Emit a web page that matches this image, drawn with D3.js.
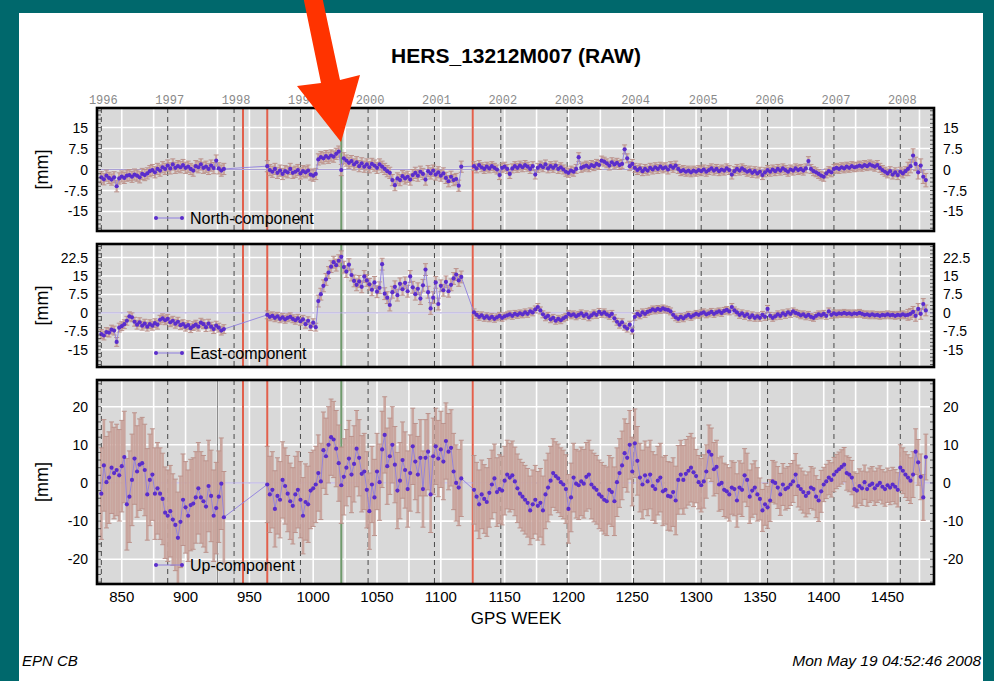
<!DOCTYPE html>
<html><head><meta charset="utf-8">
<script src="https://cdn.jsdelivr.net/npm/d3@7"></script>
<style>body{margin:0;background:#00686c;} svg{display:block}</style>
</head><body><svg id="c" width="994" height="681"></svg>
<script>
// ---------------- data ----------------
const title = "HERS_13212M007 (RAW)";
const footerLeft = "EPN CB";
const footerRight = "Mon May 19 04:52:46 2008";
const xLabel = "GPS WEEK";
const yLabel = "[mm]";
const legendNames = ["North-component", "East-component", "Up-component"];
const weekTicks = [850, 900, 950, 1000, 1050, 1100, 1150, 1200, 1250, 1300, 1350, 1400, 1450];
const gridWeeks = [850, 875, 900, 925, 950, 975, 1000, 1025, 1050, 1075, 1100, 1125, 1150, 1175, 1200, 1225, 1250, 1275, 1300, 1325, 1350, 1375, 1400, 1425, 1450, 1475];
const yearLabels = ["1996","1997","1998","1999","2000","2001","2002","2003","2004","2005","2006","2007","2008"];
const yearStartWeeks = [834, 886, 938, 990, 1043, 1095, 1147, 1199, 1251, 1304, 1356, 1408, 1460];
const redLineWeeks = [945, 964, 1125];
const greenLineWeeks = [1022];
const grayLineWeeks = [925];
const segmentStarts = [834, 964, 1126];
const weekStep = 2;

const northTicks = [15, 7.5, 0, -7.5, -15];
const eastTicks = [22.5, 15, 7.5, 0, -7.5, -15];
const upTicks = [20, 10, 0, -10, -20];
const northDomain = [-22, 22];
const eastDomain = [-22, 28];
const upDomain = [-26.5, 27];

const northA = [-2.8,-3.5,-2.2,-3.0,-3.6,-2.8,-6.0,-3.2,-2.5,-3.0,-2.2,-2.0,-2.6,-1.8,-2.2,-2.8,-1.6,-2.0,-1.4,-0.6,-0.2,-1.0,0.2,-0.4,0.8,0.2,1.4,0.4,1.8,0.6,1.2,0.8,1.6,0.6,1.0,0.2,-0.4,1.2,0.8,1.8,0.6,1.0,0.2,1.4,0.5,3.2,0.4,-0.4,0.2];
const northB = [1.2,-0.2,-0.8,0.2,-1.2,-0.4,-1.6,-0.6,-1.0,0.2,
 -1.2,-0.8,-0.2,-1.4,-0.6,-1.0,-0.4,-1.8,-2.2,-1.6,
 3.6,4.4,4.0,4.8,4.2,5.0,4.6,5.6,6.4,-0.2,
 4.0,3.2,2.4,3.0,1.8,2.6,1.2,2.2,1.0,1.8,
 0.8,2.0,1.4,0.6,1.8,1.0,0.2,-0.6,-1.2,-3.8,
 -5.6,-3.2,-3.8,-2.4,-3.2,-2.6,-3.6,-2.0,-1.2,-2.2,
 -0.8,-1.6,-3.6,-0.6,-1.4,-0.4,-1.8,-1.0,-2.2,-1.4,
 -3.0,-4.2,-2.6,-3.8,-3.4,-5.8,1.0];
const northC = [1.2,0.4,1.6,0.8,0.2,1.0,0.4,1.2,0.6,0.0,
 -2.0,0.6,1.0,0.2,-1.6,0.4,1.2,0.6,1.4,0.8,
 1.6,1.0,0.2,1.2,-1.8,0.6,1.4,0.8,1.8,0.4,
 1.2,0.6,1.4,0.2,0.8,0.0,-0.8,-1.2,-0.4,-0.8,
 0.2,4.4,0.6,1.0,1.4,0.8,1.6,1.2,2.0,1.6,
 3.2,2.8,2.2,1.4,2.6,1.8,2.4,1.6,2.0,7.2,
 4.0,1.2,2.0,0.6,-0.2,0.4,-0.6,0.2,-0.4,0.6,
 0.0,0.8,0.2,1.0,0.4,0.8,0.0,1.2,0.6,1.4,
 0.2,-0.6,-0.2,-0.8,-0.4,-1.0,-0.4,-0.8,-0.2,-0.6,
 0.0,-0.8,-0.2,0.4,-0.4,0.2,-0.6,0.0,-0.4,0.4,
 -0.2,-1.8,-0.6,0.2,-0.4,0.4,-0.2,-0.8,-0.4,-1.2,
 -0.6,-1.4,-0.8,-2.0,-1.0,-0.2,-0.8,0.0,-0.6,0.2,
 -0.4,0.4,-0.2,-0.8,0.0,-0.4,0.4,-0.2,0.2,-0.4,
 0.4,3.0,0.2,-0.6,-1.0,-1.6,-2.2,-2.6,-1.4,-0.6,
 -1.0,0.2,0.6,0.2,0.8,0.4,1.0,0.6,1.2,0.8,
 1.0,1.4,1.0,1.6,1.2,1.8,1.4,1.0,1.6,0.6,
 -0.2,-0.8,-1.4,-0.6,-1.8,-1.0,-2.0,-0.8,-1.4,-0.6,
 0.2,1.2,5.0,2.0,-1.0,1.4,-2.6,-3.8];

const eastA = [-8.6,-9.2,-7.8,-8.0,-6.8,-7.2,-11.8,-6.0,-5.4,-4.6,
 -3.2,-1.4,-1.8,-3.6,-4.8,-3.8,-5.2,-4.4,-5.6,-4.6,
 -5.2,-4.2,-4.8,-2.8,-2.2,-3.0,-2.4,-3.8,-3.2,-4.4,
 -3.6,-5.0,-4.6,-5.6,-5.0,-6.2,-5.4,-4.8,-5.6,-4.0,
 -4.6,-5.8,-4.4,-5.6,-6.6,-5.2,-6.0,-7.2,-6.6];
const eastB = [-0.8,-1.6,-1.2,-2.0,-1.4,-2.4,-1.8,-2.6,-2.0,-1.6,
 -2.4,-3.0,-2.2,-3.4,-2.6,-4.6,-3.2,-5.6,-4.0,-5.8,
 4.8,7.6,11.0,13.6,16.4,18.8,20.6,19.4,21.2,22.8,
 18.6,16.8,19.6,15.4,13.0,11.4,12.8,10.6,14.8,13.2,
 11.6,9.4,12.4,8.6,10.2,19.8,7.8,6.2,3.2,8.4,
 10.6,7.2,11.8,9.6,12.2,8.8,14.8,10.4,7.6,9.8,
 5.8,11.2,17.6,8.4,1.8,6.2,12.4,3.6,11.0,9.2,
 12.6,8.8,11.4,14.0,15.6,13.2,14.6];
const eastC = [0.2,-0.8,-1.6,-1.0,-2.0,-1.4,-2.2,-1.6,-2.4,-1.8,
 -1.2,-2.0,-1.4,-1.0,-0.6,-1.2,-0.4,-0.8,-0.2,-0.6,
 0.2,-0.4,0.6,0.2,1.4,2.4,1.0,-0.6,-1.8,-1.2,
 -2.6,-2.0,-3.2,-2.4,-3.0,-2.2,-1.6,-0.4,-1.0,-0.6,
 -1.4,-0.8,-0.2,-1.2,-0.6,-1.8,-1.0,-0.2,-0.8,0.4,
 -0.4,0.2,-0.6,-1.2,-0.4,-2.2,-3.6,-4.8,-3.8,-5.6,
 -6.4,-4.8,-7.2,-1.6,-0.4,-1.0,0.2,-0.4,0.4,0.8,
 1.4,1.0,1.6,1.2,1.8,1.4,1.2,0.6,-0.8,-1.8,
 -2.4,-1.6,-2.2,-1.4,-0.8,-1.6,-1.0,-0.4,-0.8,-0.2,
 0.2,-0.6,-0.2,0.4,-0.4,0.2,0.6,0.0,0.8,1.2,
 0.6,2.4,1.0,0.2,-0.8,-0.2,-1.2,-0.6,-1.8,-1.0,
 -2.0,-1.4,-2.0,-0.8,-1.6,1.6,-1.2,-2.0,-1.4,-0.6,
 -1.2,-0.2,-0.8,0.2,-0.4,0.6,0.0,-0.4,-1.0,-0.6,
 -1.4,-0.8,-1.6,-2.0,-1.2,-0.6,-1.0,-0.4,-1.2,0.6,
 -0.8,-0.2,-0.6,-0.2,-0.4,0.0,-0.4,-0.2,-0.6,-0.2,
 -0.4,0.0,-0.4,-0.8,-0.6,-1.0,-0.6,-1.0,-0.8,-1.2,
 -0.8,-1.0,-0.6,-1.0,-0.8,-1.2,-0.8,-1.0,-0.6,-1.0,
 -0.8,-0.4,0.4,-1.2,1.6,-0.4,3.6,1.0];

const upA = [-2.8,4.6,0.2,1.4,4.0,2.6,3.4,2.0,4.4,6.8,
 -5.6,-3.6,0.8,6.4,3.0,4.8,5.2,3.4,-3.0,0.8,
 2.2,-2.8,-1.4,-2.8,-4.2,-7.8,-8.6,-7.4,-9.6,-11.0,
 -14.4,-10.2,-4.4,-6.4,-8.6,-5.8,-5.4,-3.8,-1.4,-3.8,
 -4.8,-6.2,-0.8,-3.4,-8.6,-6.6,-3.6,-0.2,-9.0];
const upB = [-0.4,-3.0,-1.8,-6.8,-3.4,-4.4,0.8,-0.8,-2.8,-4.8,
 -6.0,-3.0,-1.8,-4.4,-8.6,-5.0,-5.6,-2.0,-1.4,-0.4,
 2.6,0.4,8.6,7.0,10.0,12.0,11.4,9.0,5.2,-0.6,
 1.6,4.0,6.4,2.2,5.0,9.0,6.6,2.4,3.0,-1.8,
 -7.4,-0.4,-3.8,3.0,0.2,8.8,12.6,4.4,7.0,10.0,
 4.8,-2.0,0.6,6.0,3.4,-1.6,2.6,9.6,5.6,2.2,
 6.6,-1.6,6.6,8.2,-3.0,7.0,9.6,6.4,8.8,5.6,
 11.0,8.2,9.2,3.0,0.0,-1.2,1.2];
const upC = [-1.8,-3.6,-5.6,-3.0,-4.2,-5.0,-2.6,-0.4,1.2,-2.4,
 -1.6,-2.0,0.6,2.2,1.4,2.0,0.4,-1.4,-2.8,-3.6,
 -4.4,-5.2,-7.2,-5.6,-4.4,-6.0,-5.2,-7.2,-3.0,-1.2,
 0.6,2.6,1.8,1.2,0.2,-0.4,-1.6,-6.8,-3.8,1.4,
 -0.2,-0.6,0.4,-0.2,1.6,2.2,-0.4,-1.2,-1.8,-3.0,
 -3.6,-4.4,-4.8,-1.8,-2.4,-4.8,0.2,2.6,4.6,7.8,
 6.6,10.0,3.0,10.4,5.8,1.4,-0.4,2.0,0.4,2.2,
 -0.8,-1.6,0.6,1.4,-2.2,-1.8,-3.4,-3.6,-2.4,-4.6,
 0.8,2.2,0.8,2.4,3.2,4.0,2.8,1.8,0.2,-0.6,
 0.4,3.0,8.2,7.4,3.6,4.2,-0.4,0.0,-1.8,-2.2,
 -3.0,-1.2,-1.6,-4.6,-1.2,-1.8,2.0,0.8,-3.6,-2.0,
 -1.2,-3.0,-4.2,-7.2,-5.6,-6.4,-4.6,0.4,0.0,-1.2,
 -3.0,-0.4,-1.6,-1.2,-0.4,0.4,2.2,-0.8,-1.6,-2.4,
 -3.4,-2.6,-1.2,-1.6,-3.6,-4.6,-2.2,-0.4,0.4,1.4,
 0.8,2.2,3.0,3.6,4.2,4.8,2.6,2.2,1.4,-1.6,
 -2.0,-0.8,-1.4,0.2,-1.6,-0.6,-0.2,-1.4,-0.6,0.0,
 -1.0,-1.6,-0.6,-1.2,-0.4,-1.0,-1.8,4.0,3.2,2.2,
 1.4,0.6,2.2,8.2,5.4,1.6,-3.8,6.8];

// formal error (sigma, mm) valid from the given week onward
const northSigmaFrom = [834, 964, 1126, 1466];
const northSigma = [2.0, 2.0, 1.6, 2.4];
const eastSigmaFrom = [834, 964, 1004, 1126, 1466];
const eastSigma = [1.8, 1.6, 2.4, 1.4, 2.2];
const upSigmaFrom = [834, 964, 1126, 1300, 1350, 1400, 1460];
const upSigma = [12, 10, 9, 7, 5.5, 4.5, 6];

// ---------------- drawing ----------------
const svg = d3.select("#c");
const FONT = "'Liberation Sans', Arial, Helvetica, sans-serif";
svg.append("rect").attr("width", 994).attr("height", 681).attr("fill", "#00686c");
svg.append("rect").attr("x", 19).attr("y", 13).attr("width", 964).attr("height", 668).attr("fill", "#ffffff");

const X0 = 97, X1 = 934;
const x = d3.scaleLinear().domain([830.6, 1486.4]).range([X0, X1]);

svg.append("text").attr("x", 516).attr("y", 63).attr("text-anchor", "middle")
  .attr("font-family", FONT).attr("font-size", 21).attr("font-weight", "bold").text(title);

const panels = [
  {name: legendNames[0], segs: [northA, northB, northC], sf: northSigmaFrom, s: northSigma, ticks: northTicks, domain: northDomain, top: 108, bottom: 231, minor: 1.5, legendY: 218, ebw: 2.2},
  {name: legendNames[1], segs: [eastA, eastB, eastC], sf: eastSigmaFrom, s: eastSigma, ticks: eastTicks, domain: eastDomain, top: 244, bottom: 367, minor: 1.5, legendY: 353, ebw: 2.2},
  {name: legendNames[2], segs: [upA, upB, upC], sf: upSigmaFrom, s: upSigma, ticks: upTicks, domain: upDomain, top: 380, bottom: 584, minor: 2, legendY: 565, gray: true, ebw: 2.6}
];

const defs = svg.append("defs");
const fmt = v => String(v);

panels.forEach((p, i) => {
  const y = d3.scaleLinear().domain(p.domain).range([p.bottom, p.top]);
  const pts = [];
  p.segs.forEach((vals, k) => vals.forEach((v, j) => {
    const w = segmentStarts[k] + j * weekStep;
    let sg = p.s[0];
    p.sf.forEach((f, m) => { if (w >= f) sg = p.s[m]; });
    pts.push({w, v, sg});
  }));

  defs.append("clipPath").attr("id", "clip" + i).append("rect")
    .attr("x", X0).attr("y", p.top).attr("width", X1 - X0).attr("height", p.bottom - p.top);
  const g = svg.append("g");
  const inner = g.append("g").attr("clip-path", `url(#clip${i})`);
  inner.append("rect").attr("x", X0).attr("y", p.top).attr("width", X1 - X0).attr("height", p.bottom - p.top).attr("fill", "#d9d9d9");

  inner.selectAll(null).data(gridWeeks).enter().append("line")
    .attr("x1", d => x(d)).attr("x2", d => x(d)).attr("y1", p.top).attr("y2", p.bottom)
    .attr("stroke", "#ffffff").attr("stroke-width", 1.6);
  inner.selectAll(null).data(p.ticks).enter().append("line")
    .attr("x1", X0).attr("x2", X1).attr("y1", d => y(d)).attr("y2", d => y(d))
    .attr("stroke", "#ffffff").attr("stroke-width", 1.6);

  inner.selectAll(null).data(yearStartWeeks).enter().append("line")
    .attr("x1", d => x(d)).attr("x2", d => x(d)).attr("y1", p.top).attr("y2", p.bottom)
    .attr("stroke", "#4a4a4a").attr("stroke-width", 1).attr("stroke-dasharray", "5,4");

  inner.selectAll(null).data(redLineWeeks).enter().append("line")
    .attr("x1", d => x(d)).attr("x2", d => x(d)).attr("y1", p.top).attr("y2", p.bottom)
    .attr("stroke", "#e2604c").attr("stroke-width", 2);
  inner.selectAll(null).data(greenLineWeeks).enter().append("line")
    .attr("x1", d => x(d)).attr("x2", d => x(d)).attr("y1", p.top).attr("y2", p.bottom)
    .attr("stroke", "#6f9a6c").attr("stroke-width", 2);
  if (p.gray) {
    inner.selectAll(null).data(grayLineWeeks).enter().append("line")
      .attr("x1", d => x(d)).attr("x2", d => x(d)).attr("y1", p.top).attr("y2", p.bottom)
      .attr("stroke", "#8a8a8a").attr("stroke-width", 1);
  }

  inner.append("line").attr("x1", X0).attr("x2", X1).attr("y1", y(0)).attr("y2", y(0))
    .attr("stroke", "#a99fd6").attr("stroke-width", 1);

  // error bars
  const eb = inner.append("g").attr("stroke", "#c9a39b").attr("opacity", 0.95);
  eb.selectAll(null).data(pts).enter().append("line")
    .attr("x1", d => x(d.w)).attr("x2", d => x(d.w))
    .attr("y1", d => y(d.v + d.sg)).attr("y2", d => y(d.v - d.sg)).attr("stroke-width", p.ebw);
  eb.selectAll(null).data(pts).enter().append("line")
    .attr("x1", d => x(d.w) - 2.5).attr("x2", d => x(d.w) + 2.5)
    .attr("y1", d => y(d.v + d.sg)).attr("y2", d => y(d.v + d.sg)).attr("stroke-width", 1).attr("stroke", "#b98f88");
  eb.selectAll(null).data(pts).enter().append("line")
    .attr("x1", d => x(d.w) - 2.5).attr("x2", d => x(d.w) + 2.5)
    .attr("y1", d => y(d.v - d.sg)).attr("y2", d => y(d.v - d.sg)).attr("stroke-width", 1).attr("stroke", "#b98f88");

  inner.append("path").datum(pts)
    .attr("d", d3.line().x(d => x(d.w)).y(d => y(d.v)))
    .attr("fill", "none").attr("stroke", "#8f7fe0").attr("stroke-width", 0.9);
  inner.selectAll(null).data(pts).enter().append("circle")
    .attr("cx", d => x(d.w)).attr("cy", d => y(d.v)).attr("r", 2.1)
    .attr("fill", "#5a2dcc");

  // minor ticks on left/right borders
  const mt = d3.range(Math.ceil(p.domain[0] / p.minor) * p.minor, p.domain[1], p.minor);
  g.selectAll(null).data(mt).enter().append("line")
    .attr("x1", X0).attr("x2", X0 + 4).attr("y1", d => y(d)).attr("y2", d => y(d))
    .attr("stroke", "#333").attr("stroke-width", 0.8);
  g.selectAll(null).data(mt).enter().append("line")
    .attr("x1", X1 - 4).attr("x2", X1).attr("y1", d => y(d)).attr("y2", d => y(d))
    .attr("stroke", "#333").attr("stroke-width", 0.8);

  g.append("rect").attr("x", X0).attr("y", p.top).attr("width", X1 - X0).attr("height", p.bottom - p.top)
    .attr("fill", "none").attr("stroke", "#000").attr("stroke-width", 2.6);

  // tick labels
  g.selectAll(null).data(p.ticks).enter().append("text")
    .attr("x", 88).attr("y", d => y(d)).attr("dy", "0.36em").attr("text-anchor", "end")
    .attr("font-family", FONT).attr("font-size", 14).text(fmt);
  g.selectAll(null).data(p.ticks).enter().append("text")
    .attr("x", 943).attr("y", d => y(d)).attr("dy", "0.36em").attr("text-anchor", "start")
    .attr("font-family", FONT).attr("font-size", 14).text(fmt);

  g.append("text").attr("transform", `translate(48,${(p.top + p.bottom) / 2}) rotate(-90)`)
    .attr("text-anchor", "middle").attr("font-family", FONT).attr("font-size", 18).text(yLabel);

  // legend
  const lg = g.append("g");
  lg.append("line").attr("x1", 156).attr("x2", 182).attr("y1", p.legendY).attr("y2", p.legendY)
    .attr("stroke", "#8f7fe0").attr("stroke-width", 1);
  lg.selectAll(null).data([156, 182]).enter().append("circle")
    .attr("cx", d => d).attr("cy", p.legendY).attr("r", 2).attr("fill", "#5a2dcc");
  lg.append("text").attr("x", 190).attr("y", p.legendY).attr("dy", "0.36em")
    .attr("font-family", FONT).attr("font-size", 16).text(p.name);
});

// year labels on top
svg.selectAll(null).data(yearLabels).enter().append("text")
  .attr("x", (d, i) => x(yearStartWeeks[i]) + 2).attr("y", 104).attr("text-anchor", "middle")
  .attr("font-family", "'Liberation Mono', 'DejaVu Sans Mono', monospace").attr("font-size", 12)
  .attr("fill", "#8a8a8a").text(d => d);

// bottom week axis
svg.selectAll(null).data(weekTicks).enter().append("text")
  .attr("x", d => x(d)).attr("y", 602).attr("text-anchor", "middle")
  .attr("font-family", FONT).attr("font-size", 15).text(d => d);
svg.append("text").attr("x", 516).attr("y", 624).attr("text-anchor", "middle")
  .attr("font-family", FONT).attr("font-size", 17).text(xLabel);

// footer
svg.append("text").attr("x", 22).attr("y", 666).attr("font-family", FONT).attr("font-size", 15)
  .attr("font-style", "italic").text(footerLeft);
svg.append("text").attr("x", 981).attr("y", 666).attr("text-anchor", "end").attr("font-family", FONT)
  .attr("font-size", 15.5).attr("font-style", "italic").text(footerRight);

// red annotation arrow
svg.append("polygon")
  .attr("points", [[303,-4],[322,-4],[340,80],[360,75],[341,142],[297,86],[321,83]].map(p => p.join(",")).join(" "))
  .attr("fill", "#ff3300");
</script></body></html>
